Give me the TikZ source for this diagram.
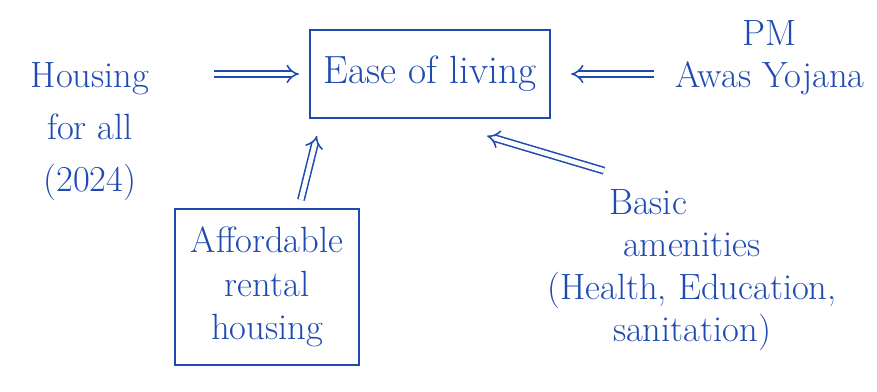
\documentclass[tikz,border=0pt]{standalone}
\usepackage{xcolor}
\usepackage{tikz}
\usetikzlibrary{arrows.meta}
\usetikzlibrary{calc}
\usetikzlibrary{positioning}

\definecolor{ink}{RGB}{30,74,178}

\tikzset{
  inktext/.style={ink, align=center, font=\fontsize{26}{37}\selectfont},
  inkbox/.style={draw=ink, line width=1.6pt, inner sep=0pt},
  dbl/.style={draw=ink, double, double distance=3.4pt, line width=1.1pt, -{Implies}}
}

\begin{document}
\begin{tikzpicture}[x=0.025cm, y=-0.025cm]

      \useasboundingbox (0, 0) rectangle (877, 392);

      \node[inkbox, inktext, minimum width=6cm, minimum height=2.2cm,
        font=\fontsize{28}{32}\selectfont] (ease) at (430, 74) {Ease of living};

      \node[inktext] (housing) at (90, 132) {Housing\\for all\\(2024)};

      \node[inktext, font=\fontsize{26}{30}\selectfont] (pm) at (770, 58) {PM\\Awas Yojana};

      \node[inktext, font=\fontsize{26}{30}\selectfont] (basic) at (692, 270)
        {Basic\hspace*{2.2cm}\\amenities\\(Health, Education,\\sanitation)};

      \node[inkbox, inktext, minimum width=4.6cm, minimum height=3.9cm,
        font=\fontsize{26}{31}\selectfont] (rental) at (267, 287)
        {Affordable\\rental\\housing};

      \draw[dbl, shorten <=1.5cm, shorten >=0.25cm] (housing.east |- ease.west) -- (ease.west);
      \draw[dbl, shorten <=0.4cm, shorten >=0.5cm] (pm.west |- ease.east) -- (ease.east);
      \draw[dbl] ([shift={(-2.2cm, 0.35cm)}]basic.north) -- ([shift={(-1.6cm, -0.42cm)}]ease.south east);
      \draw[dbl] ([shift={(0.85cm, 0.2cm)}]rental.north) -- ([shift={(0.2cm, -0.42cm)}]ease.south west);

\end{tikzpicture}
\end{document}
